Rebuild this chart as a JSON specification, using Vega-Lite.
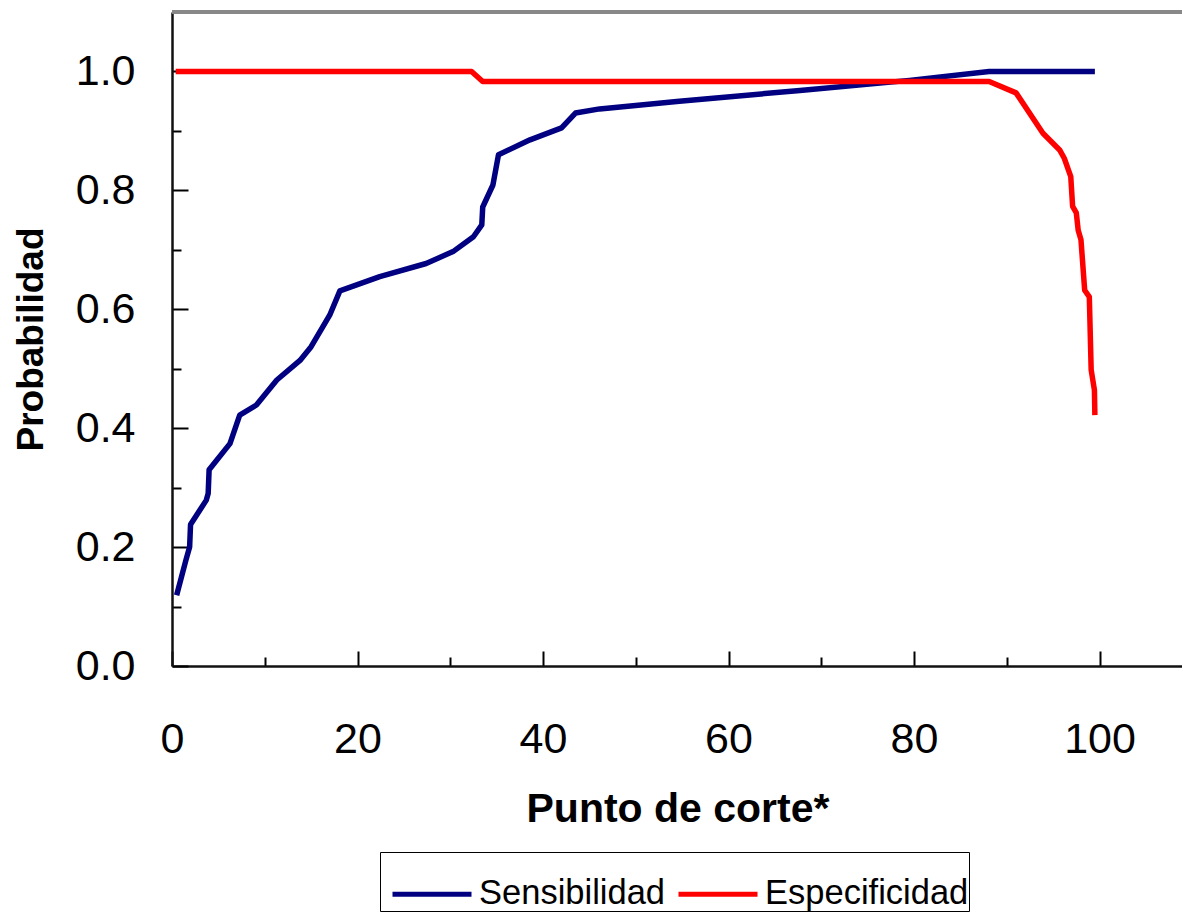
{
  "$schema": "https://vega.github.io/schema/vega-lite/v6.json",
  "width": 1011,
  "height": 654,
  "autosize": "none",
  "padding": {"left": 172, "top": 12, "right": 0, "bottom": 250},
  "background": "white",
  "config": {"view": {"stroke": null}, "font": "Liberation Sans"},
  "data": {
    "values": [
      {"serie": "Sensibilidad", "corte": 0.5, "prob": 0.119},
      {"serie": "Sensibilidad", "corte": 1.5, "prob": 0.178},
      {"serie": "Sensibilidad", "corte": 1.9, "prob": 0.2},
      {"serie": "Sensibilidad", "corte": 2.0, "prob": 0.238},
      {"serie": "Sensibilidad", "corte": 3.7, "prob": 0.279},
      {"serie": "Sensibilidad", "corte": 3.9, "prob": 0.29},
      {"serie": "Sensibilidad", "corte": 4.0, "prob": 0.33},
      {"serie": "Sensibilidad", "corte": 6.25, "prob": 0.374},
      {"serie": "Sensibilidad", "corte": 7.3, "prob": 0.422},
      {"serie": "Sensibilidad", "corte": 9.1, "prob": 0.439},
      {"serie": "Sensibilidad", "corte": 11.3, "prob": 0.481},
      {"serie": "Sensibilidad", "corte": 13.8, "prob": 0.514},
      {"serie": "Sensibilidad", "corte": 15.0, "prob": 0.537},
      {"serie": "Sensibilidad", "corte": 17.0, "prob": 0.59},
      {"serie": "Sensibilidad", "corte": 18.1, "prob": 0.631},
      {"serie": "Sensibilidad", "corte": 22.4, "prob": 0.655},
      {"serie": "Sensibilidad", "corte": 27.4, "prob": 0.677},
      {"serie": "Sensibilidad", "corte": 30.3, "prob": 0.697},
      {"serie": "Sensibilidad", "corte": 32.5, "prob": 0.722},
      {"serie": "Sensibilidad", "corte": 33.4, "prob": 0.742},
      {"serie": "Sensibilidad", "corte": 33.5, "prob": 0.772},
      {"serie": "Sensibilidad", "corte": 34.6, "prob": 0.809},
      {"serie": "Sensibilidad", "corte": 35.2, "prob": 0.86},
      {"serie": "Sensibilidad", "corte": 38.6, "prob": 0.885},
      {"serie": "Sensibilidad", "corte": 42.0, "prob": 0.905},
      {"serie": "Sensibilidad", "corte": 43.5, "prob": 0.93},
      {"serie": "Sensibilidad", "corte": 46.1, "prob": 0.937},
      {"serie": "Sensibilidad", "corte": 54.7, "prob": 0.95},
      {"serie": "Sensibilidad", "corte": 67.7, "prob": 0.968},
      {"serie": "Sensibilidad", "corte": 79.5, "prob": 0.985},
      {"serie": "Sensibilidad", "corte": 88.1, "prob": 1.0},
      {"serie": "Sensibilidad", "corte": 99.5, "prob": 1.0},
      {"serie": "Especificidad", "corte": 0.4, "prob": 1.0},
      {"serie": "Especificidad", "corte": 32.3, "prob": 1.0},
      {"serie": "Especificidad", "corte": 33.5, "prob": 0.983},
      {"serie": "Especificidad", "corte": 88.1, "prob": 0.983},
      {"serie": "Especificidad", "corte": 91.0, "prob": 0.964},
      {"serie": "Especificidad", "corte": 93.9, "prob": 0.896},
      {"serie": "Especificidad", "corte": 95.7, "prob": 0.868},
      {"serie": "Especificidad", "corte": 96.2, "prob": 0.854},
      {"serie": "Especificidad", "corte": 96.9, "prob": 0.823},
      {"serie": "Especificidad", "corte": 97.1, "prob": 0.773},
      {"serie": "Especificidad", "corte": 97.5, "prob": 0.762},
      {"serie": "Especificidad", "corte": 97.7, "prob": 0.733},
      {"serie": "Especificidad", "corte": 98.0, "prob": 0.717},
      {"serie": "Especificidad", "corte": 98.4, "prob": 0.632},
      {"serie": "Especificidad", "corte": 98.9, "prob": 0.621},
      {"serie": "Especificidad", "corte": 99.1, "prob": 0.498},
      {"serie": "Especificidad", "corte": 99.45, "prob": 0.464},
      {"serie": "Especificidad", "corte": 99.5, "prob": 0.422}
    ]
  },
  "layer": [
    {
      "mark": {"type": "rule", "color": "#888888", "strokeWidth": 3},
      "encoding": {"y": {"datum": 1.1, "type": "quantitative", "axis": null}}
    },
    {
      "mark": {"type": "point", "opacity": 0},
      "encoding": {
        "x": {
          "field": "corte", "type": "quantitative",
          "scale": {"domain": [0, 109], "nice": false, "zero": false},
          "axis": {"orient": "bottom", "values": [10, 30, 50, 70, 90], "tickSize": -9, "tickWidth": 2, "tickColor": "#000000", "labels": false, "domain": false, "grid": false, "title": null}
        },
        "y": {
          "field": "prob", "type": "quantitative",
          "scale": {"domain": [0, 1.1], "nice": false, "zero": false},
          "axis": {"orient": "left", "values": [0.1, 0.3, 0.5, 0.7, 0.9, 1.1], "tickSize": -9, "tickWidth": 2, "tickColor": "#000000", "labels": false, "domain": false, "grid": false, "title": null}
        }
      }
    },
    {
      "mark": {"type": "line", "strokeWidth": 5.5, "strokeJoin": "round", "strokeCap": "butt"},
      "encoding": {
        "x": {
          "field": "corte", "type": "quantitative",
          "scale": {"domain": [0, 109], "nice": false, "zero": false},
          "axis": {
            "orient": "bottom", "values": [0, 20, 40, 60, 80, 100], "format": "d",
            "tickSize": -15, "tickWidth": 2, "tickColor": "#000000",
            "domainColor": "#111111", "domainWidth": 2.5, "grid": false,
            "labelFontSize": 43, "labelColor": "#000000", "labelPadding": 67, "labelFlush": false, "labelOverlap": false,
            "title": "Punto de corte*", "titleFontSize": 41, "titleFontWeight": "bold", "titleColor": "#000000", "titlePadding": 28
          }
        },
        "y": {
          "field": "prob", "type": "quantitative",
          "scale": {"domain": [0, 1.1], "nice": false, "zero": false},
          "axis": {
            "orient": "left", "values": [0, 0.2, 0.4, 0.6, 0.8, 1.0], "format": ".1f",
            "tickSize": -16, "tickWidth": 2, "tickColor": "#000000",
            "domainColor": "#111111", "domainWidth": 2.5, "grid": false,
            "labelFontSize": 43, "labelColor": "#000000", "labelPadding": 53, "labelFlush": false, "labelOverlap": false,
            "title": "Probabilidad", "titleFontSize": 37, "titleFontWeight": "bold", "titleColor": "#000000", "titlePadding": 25
          }
        },
        "color": {
          "field": "serie", "type": "nominal",
          "scale": {"domain": ["Sensibilidad", "Especificidad"], "range": ["#000080", "#FF0000"]},
          "legend": {
            "orient": "none", "legendX": 208, "legendY": 840, "direction": "horizontal",
            "title": null, "symbolType": "stroke", "symbolSize": 6241, "symbolStrokeWidth": 5,
            "symbolOffset": 10, "labelOffset": 5, "columnPadding": 0, "padding": 0,
            "labelFontSize": 34.5, "labelColor": "#000000", "labelLimit": 400,
            "strokeColor": "#000000", "fillColor": "#FFFFFF"
          }
        }
      }
    }
  ],
  "resolve": {"axis": {"x": "independent", "y": "independent"}}
}
